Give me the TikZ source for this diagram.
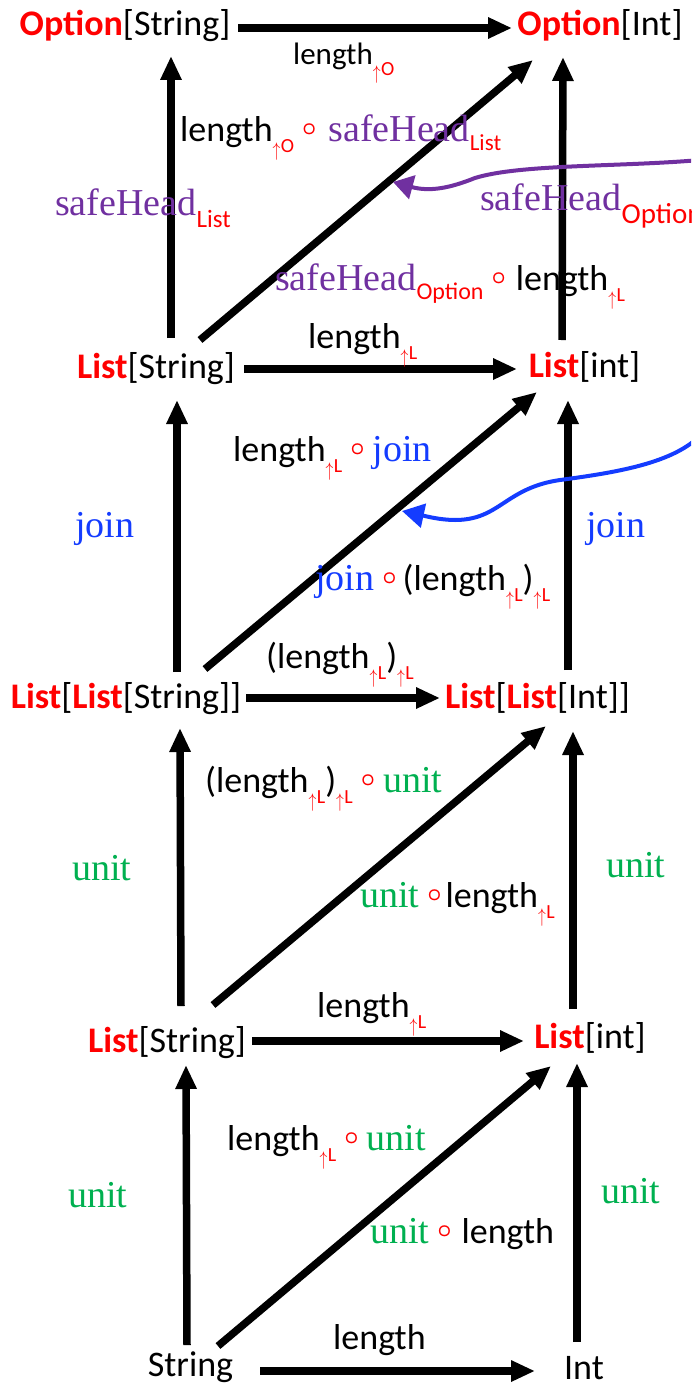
\documentclass[tikz,border=0pt]{standalone}
\usepackage{fontspec}
\setmainfont{Carlito}
\newfontfamily\cambria{Liberation Serif}
\usepackage{graphicx}
\usetikzlibrary{arrows.meta,calc}
\definecolor{purp}{RGB}{112,48,160}
\definecolor{jblue}{RGB}{20,60,255}
\definecolor{ugreen}{RGB}{0,176,80}
\newcommand\R[1]{\textcolor{red}{\textbf{#1}}}
\newcommand\upsub[1]{\raisebox{-11pt}{\fontsize{20}{20}\selectfont\color{red}\raisebox{-4pt}{\scalebox{0.75}[0.95]{$\uparrow$}}\hspace{0.5pt}#1}}
\newcommand\rsub[3][-9pt]{\raisebox{#1}{\fontsize{#2}{#2}\selectfont\color{red}#3}}
\newcommand\cmp[1][8pt]{\hspace{8pt}\raisebox{6pt}{\fontsize{24}{24}\selectfont\color{red}\boldmath$\circ$}\hspace{#1}}
\newcommand\shd{{\cambria\fontsize{38}{38}\selectfont\color{purp}safeHead}}
\newcommand\jn{{\cambria\fontsize{38}{38}\selectfont\color{jblue}join}}
\newcommand\un{{\cambria\fontsize{38}{38}\selectfont\color{ugreen}unit}}
\tikzset{
  obj/.style={anchor=base,inner sep=0pt,font=\fontsize{36}{40}\selectfont},
  lbl/.style={anchor=base west,inner sep=0pt,font=\fontsize{36}{40}\selectfont},
  arr/.style={line width=7.5pt,-{Triangle[length=24pt,width=20pt]}},
  parr/.style={line width=4pt,color=purp,-{Triangle[length=20pt,width=24pt]}},
  barr/.style={line width=4pt,color=jblue,-{Triangle[length=22pt,width=24pt]}}
}
\begin{document}
\begin{tikzpicture}[x=1pt,y=-1pt]
\useasboundingbox (0,0) rectangle (691,1386);
\clip (0,0) rectangle (691,1386);
% objects
\node[obj] (OS) at (125,36) {\R{Option}[String]};
\node[obj] (OI) at (600,36) {\R{Option}[Int]};
\node[obj] (LS1) at (156,378) {\R{List}[String]};
\node[obj] (LI1) at (584.5,377) {\R{List}[int]};
\node[obj] (LLS) at (126,708) {\R{List}[\R{List}[String]]};
\node[obj] (LLI) at (537.5,708) {\R{List}[\R{List}[Int]]};
\node[obj] (LS2) at (167,1052) {\R{List}[String]};
\node[obj] (LI2) at (590,1048) {\R{List}[int]};
\node[obj] (S) at (190.5,1376) {String};
\node[obj] (I) at (584,1379) {Int};
% arrows
\draw[arr] ($(OS.base)+(113,-8)$) -- ($(OI.base)+(-88,-8)$);
\draw[arr] ($(LS1.base)+(15,-40)$) -- ($(OS.base)+(46,20)$);
\draw[arr] ($(LI1.base)+(-22.5,-37)$) -- ($(OI.base)+(-37,21)$);
\draw[arr] ($(LS1.base)+(44,-38)$) -- ($(OI.base)+(-67,24)$);
\draw[arr] ($(LS1.base)+(88,-9)$) -- ($(LI1.base)+(-67.5,-8)$);
\draw[arr] ($(LLS.base)+(51,-36)$) -- ($(LS1.base)+(21,22)$);
\draw[arr] ($(LLI.base)+(30.5,-38)$) -- ($(LI1.base)+(-16.5,23)$);
\draw[arr] ($(LLS.base)+(79,-39)$) -- ($(LI1.base)+(-47.5,15)$);
\draw[arr] ($(LLS.base)+(120,-10)$) -- ($(LLI.base)+(-97.5,-10)$);
\draw[arr] ($(LS2.base)+(14,-46)$) -- ($(LLS.base)+(54,20)$);
\draw[arr] ($(LI2.base)+(-17,-39)$) -- ($(LLI.base)+(35.5,23)$);
\draw[arr] ($(LS2.base)+(46,-47)$) -- ($(LLI.base)+(8.5,18)$);
\draw[arr] ($(LS2.base)+(85,-11)$) -- ($(LI2.base)+(-66,-7)$);
\draw[arr] ($(S.base)+(-3.5,-31)$) -- ($(LS2.base)+(19,13)$);
\draw[arr] ($(I.base)+(-7,-37)$) -- ($(LI2.base)+(-13,15)$);
\draw[arr] ($(S.base)+(27.5,-30)$) -- ($(LI2.base)+(-39,18)$);
\draw[arr] ($(S.base)+(69.5,-5)$) -- ($(I.base)+(-49,-8)$);
% labels
\node[lbl] (l1) at (293,65) {\fontsize{31}{31}\selectfont length\upsub{O}};
\node[lbl] (l2) at (180,142) {length\upsub{O}\cmp[12pt]\shd\rsub{23}{List}};
\node[lbl] (l3) at (55,215) {\shd\rsub[-12pt]{25}{List}};
\node[lbl] (l4) at (480,210) {\shd\rsub[-13pt]{29}{Option}};
\node[lbl] (l5) at (275,290) {\shd\rsub{24}{Option}\cmp[10pt]length\upsub{L}};
\node[lbl] (l6) at (308,348) {length\upsub{L}};
\node[lbl] (l7) at (233,461) {length\upsub{L}\cmp\jn};
\node[lbl] (l8) at (75,537) {\jn};
\node[lbl] (l9) at (586,537) {\jn};
\node[lbl] (l10) at (315,590) {\jn\cmp[6pt](length\upsub{L})\upsub{L}};
\node[lbl] (l11) at (266,668) {(length\upsub{L})\upsub{L}};
\node[lbl] (l12) at (205,792) {(length\upsub{L})\upsub{L}\cmp\un};
\node[lbl] (l13) at (72,880) {\un};
\node[lbl] (l14) at (606,877) {\un};
\node[lbl] (l15) at (360,907) {\un\cmp[4pt]length\upsub{L}};
\node[lbl] (l16) at (317,1017) {length\upsub{L}};
\node[lbl] (l17) at (227,1150) {length\upsub{L}\cmp\un};
\node[lbl] (l18) at (68,1207) {\un};
\node[lbl] (l19) at (601,1203) {\un};
\node[lbl] (l20) at (370,1243) {\un\cmp[10pt]length};
\node[lbl] (l21) at (333,1349) {length};
% curved pointers
\coordinate (pS) at (700,160);
\coordinate (pT) at (393,182);
\draw[parr] (pS) .. controls (620,167) and (520,164) .. (475,178) .. controls (450,188) and (430,192) .. (pT);
\coordinate (bS) at (705,430);
\coordinate (bT) at (402,511);
\draw[barr] (bS) .. controls (680,462) and (620,472) .. (560,480) .. controls (505,488) and (500,520) .. (455,520) .. controls (440,520) and (425,516) .. (bT);
\end{tikzpicture}
\end{document}
